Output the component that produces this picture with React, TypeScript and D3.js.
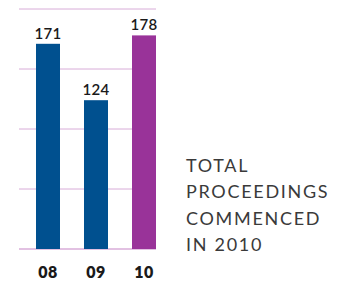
import React from "react";
import * as d3 from "d3";

const categories = ["08", "09", "10"];
const values = [171, 124, 178];
const barColors = ["#00508f", "#00508f", "#993399"];
const gridTicks = [0, 50, 100, 150, 200];
const caption = ["TOTAL", "PROCEEDINGS", "COMMENCED", "IN 2010"];

export default function App() {
  const W = 342;
  const H = 281;
  const x = d3.scaleBand<string>().domain(categories).range([24, 168]).paddingInner(0.5).paddingOuter(0.25);
  const y = d3.scaleLinear().domain([0, 200]).range([249, 9]);
  const font = "Lato, 'Open Sans', sans-serif";
  return (
    <svg width={W} height={H} style={{ position: "absolute", left: 0, top: 0 }}>
      <rect width={W} height={H} fill="#ffffff" />
      {gridTicks.map((t) => (
        <line key={t} x1={19} x2={156} y1={y(t)} y2={y(t)} stroke="#d8acd8" strokeWidth={t === 0 ? 1.5 : 1} />
      ))}
      {categories.map((c, i) => (
        <g key={c}>
          <rect x={x(c)} y={y(values[i])} width={x.bandwidth()} height={y(0) - y(values[i])} fill={barColors[i]} />
          <text x={(x(c) as number) + x.bandwidth() / 2} y={y(values[i]) - 5} textAnchor="middle" fontFamily={font} fontWeight={600} fontSize={15} letterSpacing={0.3} fill="#1a1a1a">
            {values[i]}
          </text>
          <text x={(x(c) as number) + x.bandwidth() / 2} y={278} textAnchor="middle" fontFamily={font} fontWeight={800} fontSize={16} letterSpacing={0.5} fill="#1a1a1a">
            {c}
          </text>
        </g>
      ))}
      {caption.map((line, i) => (
        <text key={line} x={186} y={172 + i * 26.4} fontFamily={font} fontSize={18} letterSpacing={1.7} fill="#3a3a3a">
          {line}
        </text>
      ))}
    </svg>
  );
}
